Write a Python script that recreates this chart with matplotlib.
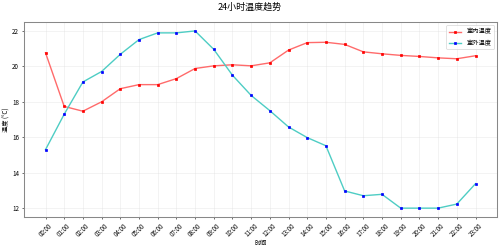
import matplotlib
matplotlib.use('Agg')
import matplotlib.pyplot as plt

plt.rcParams['font.family'] = ['Noto Sans CJK SC', 'DejaVu Sans']
plt.rcParams['axes.unicode_minus'] = False

hours = ['%02d:00' % h for h in range(24)]
indoor = [20.77, 17.74, 17.47, 18.0, 18.74, 18.97, 18.97, 19.31, 19.88, 20.03, 20.09, 20.03,
          20.2, 20.92, 21.34, 21.36, 21.24, 20.82, 20.71, 20.62, 20.56, 20.48, 20.43, 20.6]
outdoor = [15.3, 17.3, 19.12, 19.71, 20.68, 21.51, 21.89, 21.89, 22.0, 20.96, 19.5, 18.36,
           17.5, 16.58, 15.98, 15.52, 12.97, 12.7, 12.78, 12.0, 12.0, 12.0, 12.23, 13.38]

fig = plt.figure(figsize=(10, 4.96), dpi=50)
ax = fig.add_axes([0.048, 0.125, 0.946, 0.786])

x = range(len(hours))
ax.plot(x, indoor, color='#ff6b6b', linewidth=2, marker='s', markersize=4,
        markerfacecolor='red', markeredgecolor='red', label='室内温度')
ax.plot(x, outdoor, color='#4ecdc4', linewidth=2, marker='s', markersize=4,
        markerfacecolor='blue', markeredgecolor='blue', label='室外温度')

ax.set_xticks(list(x))
ax.set_xticklabels(hours, rotation=45, fontsize=9)
ax.tick_params(axis='y', labelsize=9)
ax.set_xlabel('时间', fontsize=9, labelpad=1)
ax.set_ylabel('温度 (°C)', fontsize=9, labelpad=2)
fig.suptitle('24小时温度趋势', fontsize=13, y=0.99)
ax.grid(True, color='#dddddd', alpha=0.6)
for s in ax.spines.values():
    s.set_color('#888888')
    s.set_linewidth(1.5)
ax.legend(loc='upper right', fontsize=9)

fig.savefig('out.png')
